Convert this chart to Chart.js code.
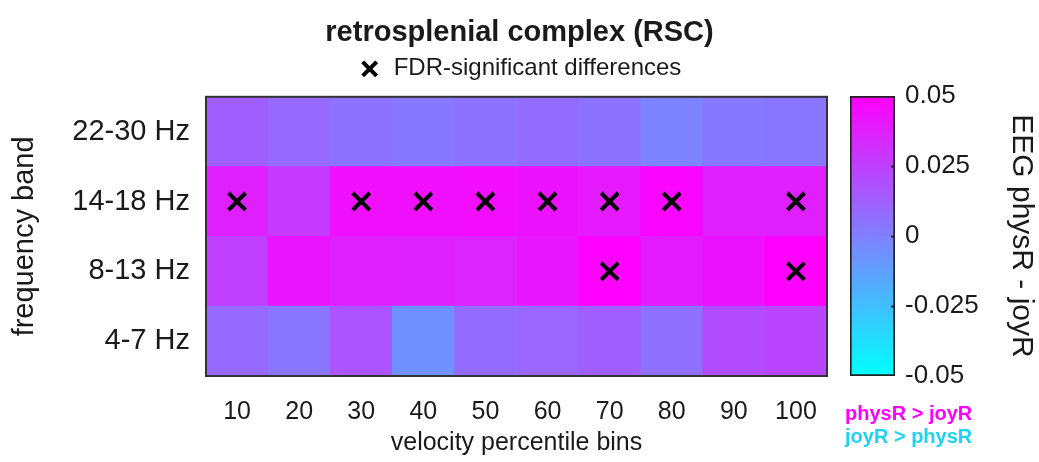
<!DOCTYPE html>
<html>
<head>
<meta charset="utf-8">
<title>RSC heatmap</title>
<script src="https://cdn.jsdelivr.net/npm/chart.js@4"></script>
<style>
    html, body { margin: 0; padding: 0; background: #fff; }
    #wrap { position: relative; width: 1039px; height: 462px; overflow: hidden; }
    #heatCanvas { position: absolute; left: 0; top: 0; }
    #barCanvas { position: absolute; left: 830px; top: 0; }
    .key { position: absolute; left: 845px; font: bold 20px 'Liberation Sans', Arial, sans-serif; }
</style>
</head>
<body>
<div id="wrap">
    <canvas id="heatCanvas" width="1039" height="462"></canvas>
    <canvas id="barCanvas" width="209" height="462"></canvas>
    <div class="key" style="top: 402px; color: #ff00ff;">physR &gt; joyR</div>
    <div class="key" style="top: 425px; color: #1ed2f5;">joyR &gt; physR</div>
</div>
<script>
    // velocity percentile bins (x) and frequency bands (y, bottom to top)
    const bins = ['10', '20', '30', '40', '50', '60', '70', '80', '90', '100'];
    const bands = ['4-7 Hz', '8-13 Hz', '14-18 Hz', '22-30 Hz'];

    // EEG physR - joyR, one array per band
    const theta = [0.009, 0.004, 0.017, -0.007, 0.008, 0.010, 0.013, 0.006, 0.020, 0.023];
    const alpha = [0.025, 0.042, 0.038, 0.037, 0.036, 0.041, 0.050, 0.039, 0.043, 0.050];
    const beta = [0.038, 0.027, 0.044, 0.044, 0.045, 0.043, 0.040, 0.048, 0.038, 0.038];
    const gamma = [0.013, 0.009, 0.005, 0.003, 0.005, 0.008, 0.005, -0.001, 0.003, 0.004];
    const bandValues = [theta, alpha, beta, gamma];

    // FDR-significant cells: [bin, band]
    const sigCells = [
        ['10', '14-18 Hz'], ['30', '14-18 Hz'], ['40', '14-18 Hz'], ['50', '14-18 Hz'],
        ['60', '14-18 Hz'], ['70', '14-18 Hz'], ['80', '14-18 Hz'], ['100', '14-18 Hz'],
        ['70', '8-13 Hz'], ['100', '8-13 Hz'],
    ];

    const cMin = -0.05;
    const cMax = 0.05;
    const cTicks = [-0.05, -0.025, 0, 0.025, 0.05];

    const FONT = "'Liberation Sans', Arial, sans-serif";
    const INK = '#1a1a1a';

    // MATLAB "cool" map: cyan -> magenta
    function coolColor(v) {
        const t = Math.min(1, Math.max(0, (v - cMin) / (cMax - cMin)));
        const r = Math.round(255 * t);
        const g = Math.round(255 * (1 - t));
        return `rgb(${r}, ${g}, 255)`;
    }

    const frame = {
        id: 'frame',
        afterDatasetsDraw(chart) {
            const { ctx, chartArea: a } = chart;
            ctx.save();
            ctx.strokeStyle = '#333';
            ctx.lineWidth = 2;
            ctx.strokeRect(a.left, a.top, a.right - a.left, a.bottom - a.top);
            ctx.restore();
        },
    };

    // small inward ticks on the colour bar's right edge
    const barTicks = {
        id: 'barTicks',
        afterDatasetsDraw(chart) {
            const { ctx, chartArea: a, scales: { y } } = chart;
            ctx.save();
            ctx.strokeStyle = '#222';
            ctx.lineWidth = 2;
            cTicks.slice(1, -1).forEach((v) => {
                const py = Math.round(y.getPixelForValue(v)) + 0.5;
                ctx.beginPath();
                ctx.moveTo(a.right - 4, py);
                ctx.lineTo(a.right, py);
                ctx.stroke();
            });
            ctx.restore();
        },
    };

    const heatSets = bandValues.map((vals, row) => ({
        label: bands[row],
        data: vals.map(() => [row, row + 1]),
        backgroundColor: vals.map(coolColor),
        borderWidth: 0,
        barPercentage: 1,
        categoryPercentage: 1,
        grouped: false,
        order: 1,
    }));

    new Chart(document.getElementById('heatCanvas'), {
        type: 'bar',
        data: {
            labels: bins,
            datasets: [
                {
                    type: 'scatter',
                    label: 'FDR-significant differences',
                    data: sigCells.map(([b, f]) => ({ x: b, y: bands.indexOf(f) + 0.5 })),
                    pointStyle: 'crossRot',
                    pointRadius: 12,
                    pointBorderWidth: 4,
                    borderWidth: 3.5,
                    borderColor: '#000',
                    backgroundColor: '#000',
                    order: 0,
                },
                ...heatSets,
            ],
        },
        options: {
            responsive: false,
            animation: false,
            layout: { padding: { left: 0, right: 0, top: 10, bottom: 0 } },
            plugins: {
                title: {
                    display: true,
                    text: 'retrosplenial complex (RSC)',
                    color: INK,
                    font: { family: FONT, size: 29, weight: 'bold' },
                    padding: { top: 6, bottom: -10 },
                },
                legend: {
                    display: true,
                    labels: {
                        filter: (item) => item.datasetIndex === 0,
                        usePointStyle: true,
                        boxHeight: 14,
                        color: INK,
                        font: { family: FONT, size: 24 },
                        padding: 16,
                    },
                },
                tooltip: { enabled: false },
            },
            scales: {
                x: {
                    type: 'category',
                    offset: true,
                    grid: { display: false, drawTicks: false },
                    border: { display: false },
                    afterFit(scale) {
                        scale.height = 86;
                    },
                    ticks: { color: INK, font: { family: FONT, size: 25 }, padding: 21 },
                    title: {
                        display: true,
                        text: 'velocity percentile bins',
                        color: INK,
                        font: { family: FONT, size: 25 },
                        padding: { top: 0, bottom: 4 },
                    },
                },
                // empty strip between the legend and the map
                xGap: {
                    type: 'category',
                    position: 'top',
                    display: true,
                    grid: { display: false, drawTicks: false },
                    border: { display: false },
                    ticks: { display: false },
                    afterFit(scale) {
                        scale.height = 6;
                    },
                },
                y: {
                    type: 'linear',
                    min: 0,
                    max: 4,
                    grid: { display: false, drawTicks: false },
                    border: { display: false },
                    afterBuildTicks(scale) {
                        scale.ticks = bands.map((b, i) => ({ value: i + 0.5 }));
                    },
                    afterFit(scale) {
                        scale.width = 206;
                    },
                    ticks: {
                        color: INK,
                        font: { family: FONT, size: 29 },
                        padding: 16,
                        callback: (value, index) => bands[index],
                    },
                    title: {
                        display: true,
                        text: 'frequency band',
                        color: INK,
                        font: { family: FONT, size: 29 },
                        padding: { top: 8, bottom: 0 },
                    },
                },
                // empty right-hand strip kept for the colour bar, so the title centres on the page
                y2: {
                    position: 'right',
                    display: true,
                    grid: { display: false, drawTicks: false },
                    border: { display: false },
                    ticks: { display: false },
                    afterFit(scale) {
                        scale.width = 212;
                    },
                },
            },
        },
        plugins: [frame],
    });

    new Chart(document.getElementById('barCanvas'), {
        type: 'bar',
        data: {
            labels: [''],
            datasets: [{
                data: [[cMin, cMax]],
                backgroundColor(context) {
                    const chart = context.chart;
                    if (!chart.chartArea) return null;
                    const y = chart.scales.y;
                    const g = chart.ctx.createLinearGradient(0, y.getPixelForValue(cMin), 0, y.getPixelForValue(cMax));
                    cTicks.forEach((v) => g.addColorStop((v - cMin) / (cMax - cMin), coolColor(v)));
                    return g;
                },
                borderColor: '#222',
                borderWidth: 2,
                borderSkipped: false,
                barPercentage: 1,
                categoryPercentage: 1,
            }],
        },
        options: {
            responsive: false,
            animation: false,
            layout: { padding: { left: 20, right: 0, top: 96, bottom: 86 } },
            plugins: { legend: { display: false }, tooltip: { enabled: false } },
            scales: {
                x: { display: false },
                y: {
                    position: 'right',
                    min: cMin,
                    max: cMax,
                    grid: { display: false, drawTicks: false },
                    border: { display: false },
                    afterBuildTicks(scale) {
                        scale.ticks = cTicks.map((v) => ({ value: v }));
                    },
                    afterFit(scale) {
                        scale.width = 144;
                    },
                    ticks: {
                        color: INK,
                        font: { family: FONT, size: 26 },
                        padding: 10,
                        callback: (value) => String(Number(value.toFixed(3))),
                    },
                    title: {
                        display: true,
                        text: 'EEG physR - joyR',
                        color: INK,
                        font: { family: FONT, size: 30 },
                        padding: { top: 0, bottom: 2 },
                    },
                },
            },
        },
        plugins: [barTicks],
    });
</script>
</body>
</html>
